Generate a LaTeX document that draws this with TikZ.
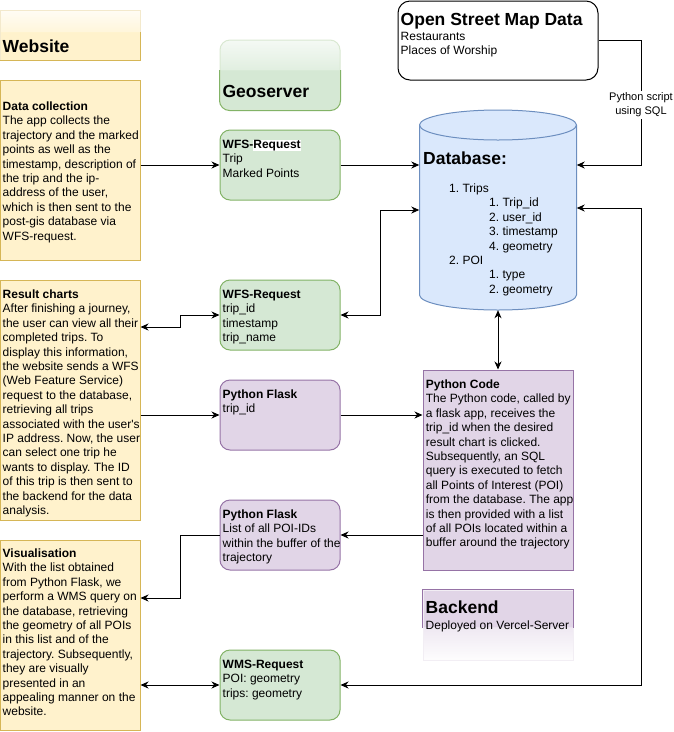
\documentclass[tikz,border=0pt]{standalone}
\usepackage{fontspec}
\setmainfont{Liberation Sans}[Ligatures=TeXOff]
\usetikzlibrary{arrows.meta,calc}
\frenchspacing

\definecolor{yfill}{HTML}{FFF2CC}\definecolor{ystroke}{HTML}{D6B656}
\definecolor{gfill}{HTML}{D5E8D4}\definecolor{gstroke}{HTML}{82B366}
\definecolor{pfill}{HTML}{E1D5E7}\definecolor{pstroke}{HTML}{9673A6}
\definecolor{bfill}{HTML}{DAE8FC}\definecolor{bstroke}{HTML}{6C8EBF}

\pgfdeclareverticalshading{webglass}{100bp}{color(0bp)=(yfill); color(53bp)=(yfill); color(53.6bp)=(yfill!70!white); color(75bp)=(yfill!20!white); color(100bp)=(yfill!20!white)}
\pgfdeclareverticalshading{geoglass}{100bp}{color(0bp)=(gfill); color(53.5bp)=(gfill); color(54.1bp)=(gfill!70!white); color(75bp)=(gfill!25!white); color(100bp)=(gfill!25!white)}
\pgfdeclareverticalshading{begrad}{100bp}{color(0bp)=(pfill!5!white); color(25bp)=(pfill!5!white); color(48.4bp)=(pfill!55!white); color(49bp)=(pfill); color(100bp)=(pfill)}

\tikzset{
  dtip/.tip={Stealth[length=8pt,width=7pt,inset=2.5pt]},
  box/.style={inner sep=0pt, line width=1pt},
  ybox/.style={box, draw=ystroke, fill=yfill, minimum width=140pt},
  gbox/.style={box, draw=gstroke, fill=gfill, rounded corners=10pt, minimum width=120pt, minimum height=70pt},
  pbox/.style={box, draw=pstroke, fill=pfill, rounded corners=10pt, minimum width=120pt, minimum height=70pt},
  txt/.style={inner sep=0pt, anchor=north west, align=left, font=\fontsize{12}{14.4}\selectfont},
  head/.style={inner sep=0pt, anchor=base west, font=\fontsize{17.5}{21}\selectfont\bfseries},
  line/.style={inner sep=0pt, anchor=base west, font=\fontsize{12}{14.4}\selectfont},
  lbl/.style={fill=white, inner sep=1.5pt, align=center, font=\fontsize{11}{14}\selectfont},
  arr/.style={line width=1pt, -dtip},
  darr/.style={line width=1pt, dtip-dtip},
}

\begin{document}
\begin{tikzpicture}[x=1pt,y=-1pt]
\useasboundingbox (0,0) rectangle (674,732);

% ---------- Website column ----------
\node[box, minimum width=140pt, minimum height=50pt, shading=webglass, draw=ystroke!30!white] (web) at (70,35) {};
\begin{scope}
  \clip (-2,32) rectangle (142,62);
  \draw[line width=1pt, ystroke] (web.south west) rectangle (web.north east);
\end{scope}
\node[head] (webt) at (2.5,52.5) {Website};

\node[ybox, minimum height=180pt] (dc) at (70,170) {};
\node[txt] (dct) at (2.5,100.2) {\strut\textbf{Data collection}\\The app collects the\\trajectory and the marked\\points as well as the\\timestamp, description of\\the trip and the ip-\\address of the user,\\which is then sent to the\\post-gis database via\\WFS-request.};

\node[ybox, minimum height=240pt] (rc) at (70,400) {};
\node[txt] (rct) at (2.5,288.2) {\strut\textbf{Result charts}\\After finishing a journey,\\the user can view all their\\completed trips. To\\display this information,\\the website sends a WFS\\(Web Feature Service)\\request to the database,\\retrieving all trips\\associated with the user's\\IP address. Now, the user\\can select one trip he\\wants to display. The ID\\of this trip is then sent to\\the backend for the data\\analysis.};

\node[ybox, minimum height=190pt] (vis) at (70,635) {};
\node[txt] (vist) at (2.5,547.2) {\strut\textbf{Visualisation}\\With the list obtained\\from Python Flask, we\\perform a WMS query on\\the database, retrieving\\the geometry of all POIs\\in this list and of the\\trajectory. Subsequently,\\they are visually\\presented in an\\appealing manner on the\\website.};

% ---------- Geoserver / Flask column ----------
\node[box, rounded corners=10pt, minimum width=120pt, minimum height=70pt, shading=geoglass, draw=gstroke!30!white] (geo) at (280,75) {};
\begin{scope}
  \clip (218,70) rectangle (342,112);
  \draw[line width=1pt, gstroke, rounded corners=10pt] (geo.south west) rectangle (geo.north east);
\end{scope}
\node[head] (geot) at (222.3,97) {Geoserver};

\node[gbox] (wfs1) at (280,165) {};
\node[txt] (wfs1t) at (222.5,138.2) {\strut\textbf{WFS-{\setlength{\fboxsep}{0pt}\colorbox{white}{Request}}}\\Trip\\Marked Points};

\node[gbox] (wfs2) at (280,315) {};
\node[txt] (wfs2t) at (222.5,288.2) {\strut\textbf{WFS-Request}\\trip\_id\\timestamp\\trip\_name};

\node[pbox] (fl1) at (280,415) {};
\node[txt] (fl1t) at (222.5,388.2) {\strut\textbf{Python Flask}\\trip\_id};

\node[pbox] (fl2) at (280,535) {};
\node[txt] (fl2t) at (222.5,508.2) {\strut\textbf{Python Flask}\\List of all POI-IDs\\within the buffer of the\\trajectory};

\node[gbox] (wms) at (280,685) {};
\node[txt] (wmst) at (222.5,658.2) {\strut\textbf{WMS-Request}\\POI: geometry\\trips: geometry};

% ---------- Right column ----------
\node[box, draw=black, fill=white, rounded corners=12pt, minimum width=200pt, minimum height=79pt] (osm) at (498,40.5) {};
\node[head] (osmt) at (400.5,25.5) {Open Street Map Data};
\node[line] (osm1) at (400.5,40) {Restaurants};
\node[line] (osm2) at (400.5,54.4) {Places of Worship};

\node[inner sep=0pt, minimum width=157pt, minimum height=200pt] (db) at (498,210) {};
\draw[line width=1pt, draw=bstroke, fill=bfill]
  (419.5,125) -- (419.5,295)
  arc[start angle=180, end angle=360, x radius=78.5pt, y radius=15pt]
  -- (576.5,125)
  arc[start angle=0, end angle=180, x radius=78.5pt, y radius=15pt] -- cycle;
\draw[line width=1pt, draw=bstroke]
  (419.5,125) arc[start angle=180, end angle=360, x radius=78.5pt, y radius=15pt];
\node[inner sep=0pt, anchor=base west, font=\fontsize{17.5}{21}\selectfont\bfseries] (dbt) at (423,164) {Database:};
\node[txt] (dbl) at (449,182.2) {\strut 1. Trips\\\hspace*{40pt}1. Trip\_id\\\hspace*{40pt}2. user\_id\\\hspace*{40pt}3. timestamp\\\hspace*{40pt}4. geometry\\2. POI\\\hspace*{40pt}1. type\\\hspace*{40pt}2. geometry};

\node[box, draw=pstroke, fill=pfill, minimum width=150pt, minimum height=200pt] (pc) at (498,470) {};
\node[txt] (pct) at (425.7,378.2) {\strut\textbf{Python Code}\\The Python code, called by\\a flask app, receives the\\trip\_id when the desired\\result chart is clicked.\\Subsequently, an SQL\\query is executed to fetch\\all Points of Interest (POI)\\from the database. The app\\is then provided with a list\\of all POIs located within a\\buffer around the trajectory};

\node[box, minimum width=150pt, minimum height=70pt, shading=begrad, draw=pstroke!12!white] (be) at (498,625) {};
\begin{scope}
  \clip (420,587) rectangle (576,627);
  \draw[line width=1pt, pstroke] (be.south west) rectangle (be.north east);
\end{scope}
\node[head] (bet) at (425.5,613) {Backend};
\node[line] (bes) at (425.5,629.5) {Deployed on Vercel-Server};

% ---------- Connectors ----------
\coordinate (rail) at (641,0);
\coordinate (lrail) at (180,0);

\draw[arr] (wfs1.west -| dc.east) -- (wfs1.west);
\draw[arr] (wfs1.east) -- (wfs1.east -| db.west);
\draw[arr] (osm.east) -| (rail |- wfs1.east) -- (db.east |- wfs1.east);
\node[lbl] (psql) at (641,105) {Python script\\using SQL};

\draw[darr] (wfs2.east) -- ++(40,0) |- (db.west);
\draw[darr] (rc.east |- 0,327) -- (lrail |- 0,327) |- (wfs2.west);
\draw[arr] (fl1.west -| rc.east) -- (fl1.west);
\draw[arr] (fl1.east) -- (fl1.east -| pc.west);
\draw[darr] (db.south) -- (pc.north);
\draw[arr] (fl2.east -| pc.west) -- (fl2.east);
\draw[arr] (fl2.west) -- (lrail |- fl2.west) |- (vis.east |- 0,598);
\draw[darr] (wms.west -| vis.east) -- (wms.west);
\draw[darr] (wms.east) -| (rail |- 0,208) -- (db.east |- 0,208);
\end{tikzpicture}
\end{document}
